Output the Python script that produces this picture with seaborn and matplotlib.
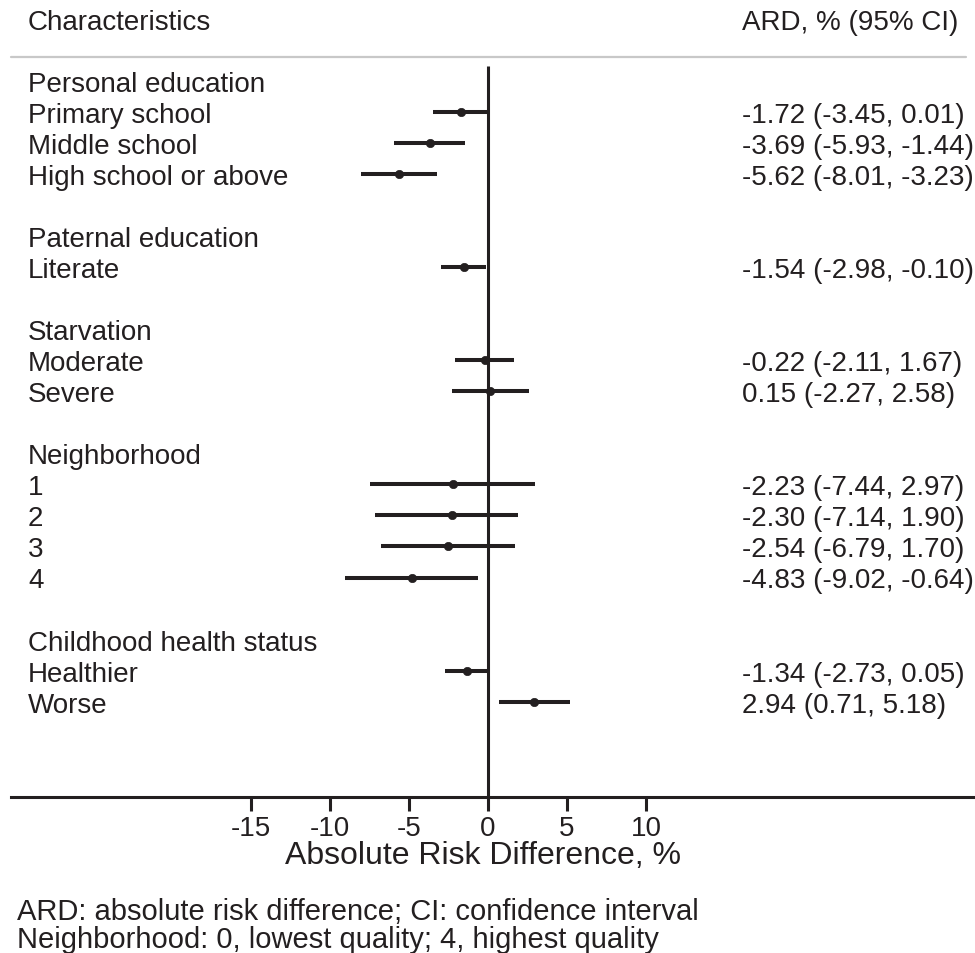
import numpy as np
import pandas as pd
import matplotlib
matplotlib.use('Agg')
import matplotlib.pyplot as plt
import seaborn as sns

# rows of the table, top to bottom ('' = blank spacer row)
labels = ['Personal education', 'Primary school', 'Middle school', 'High school or above', '',
          'Paternal education', 'Literate', '',
          'Starvation', 'Moderate', 'Severe', '',
          'Neighborhood', '1', '2', '3', '4', '',
          'Childhood health status', 'Healthier', 'Worse']
nan = np.nan
ard = [nan, -1.72, -3.69, -5.62, nan,
       nan, -1.54, nan,
       nan, -0.22, 0.15, nan,
       nan, -2.23, -2.30, -2.54, -4.83, nan,
       nan, -1.34, 2.94]
ci_low = [nan, -3.45, -5.93, -8.01, nan,
          nan, -2.98, nan,
          nan, -2.11, -2.27, nan,
          nan, -7.44, -7.14, -6.79, -9.02, nan,
          nan, -2.73, 0.71]
ci_high = [nan, 0.01, -1.44, -3.23, nan,
           nan, -0.10, nan,
           nan, 1.67, 2.58, nan,
           nan, 2.97, 1.90, 1.70, -0.64, nan,
           nan, 0.05, 5.18]
xticks = [-15, -10, -5, 0, 5, 10]

df = pd.DataFrame({'label': labels, 'ard': ard, 'lo': ci_low, 'hi': ci_high})
df['row'] = np.arange(len(df))
est = df.dropna()

sns.set_style('white')
plt.rcParams['font.family'] = ['Liberation Sans', 'DejaVu Sans']
ink = '#231f20'
fs = 20

fig = plt.figure(figsize=(9.75, 9.54), dpi=100)
W, H = 975, 954
ax_l, ax_r, ax_t, ax_b = 11, 975, 58, 798
ax = fig.add_axes([ax_l / W, 1 - ax_b / H, (ax_r - ax_l) / W, (ax_b - ax_t) / H])

# pixel geometry -> data limits
px_unit = 15.8
x0_px = 488
row0_px, row_px = 81.7, 31.05
ax.set_xlim((ax_l - x0_px) / px_unit, (ax_r - x0_px) / px_unit)
ax.set_ylim((ax_b - row0_px) / row_px, (ax_t - row0_px) / row_px)

# confidence intervals and point estimates
ax.hlines(est['row'], est['lo'], est['hi'], color=ink, lw=2.9, zorder=2)
sns.scatterplot(data=est, x='ard', y='row', ax=ax, color=ink, s=36,
                marker='o', edgecolor=ink, linewidth=0.5, zorder=3, legend=False)

# reference line at zero
ax.vlines(0, (ax_b - row0_px) / row_px, (67 - row0_px) / row_px, color=ink, lw=2.2, zorder=1)

# axes styling
for s in ['top', 'left', 'right']:
    ax.spines[s].set_visible(False)
ax.spines['bottom'].set_color(ink)
ax.spines['bottom'].set_linewidth(2.2)
ax.axhline(ax.get_ylim()[1], 0, (966 - ax_l) / (ax_r - ax_l), color='#c8c8c8',
           lw=1.6, clip_on=False)
ax.set_yticks([])
ax.set_xticks(xticks)
ax.set_xticklabels([str(t) for t in xticks], fontsize=fs, color=ink)
ax.tick_params(axis='x', direction='out', length=10, width=2.2, color=ink, pad=3, bottom=True)
ax.set_ylabel('')
ax.set_xlabel('Absolute Risk Difference, %', fontsize=23, color=ink)
ax.xaxis.set_label_coords((483 - ax_l) / (ax_r - ax_l), -(853 - ax_b) / (ax_b - ax_t))
ax.xaxis.label.set_va('center_baseline')

# table text
trans = ax.get_yaxis_transform()
lab_x = (28 - ax_l) / (ax_r - ax_l)
val_x = (742 - ax_l) / (ax_r - ax_l)
for r, lab in zip(df['row'], df['label']):
    if lab:
        ax.text(lab_x, r, lab, transform=trans, fontsize=fs, color=ink,
                va='center_baseline', ha='left')
for _, d in est.iterrows():
    ax.text(val_x, d['row'], f"{d['ard']:.2f} ({d['lo']:.2f}, {d['hi']:.2f})",
            transform=trans, fontsize=fs, color=ink, va='center_baseline', ha='left')

head_y = (20 - row0_px) / row_px
ax.text(lab_x, head_y, 'Characteristics', transform=trans, fontsize=fs, color=ink,
        va='center_baseline', ha='left')
ax.text(val_x, head_y, 'ARD, % (95% CI)', transform=trans, fontsize=fs, color=ink,
        va='center_baseline', ha='left')

fig.text(17 / W, 1 - 909 / H, 'ARD: absolute risk difference; CI: confidence interval',
         fontsize=21, color=ink, va='center_baseline', ha='left')
fig.text(17 / W, 1 - 937 / H, 'Neighborhood: 0, lowest quality; 4, highest quality',
         fontsize=21, color=ink, va='center_baseline', ha='left')

fig.savefig('out.png', dpi=100)
